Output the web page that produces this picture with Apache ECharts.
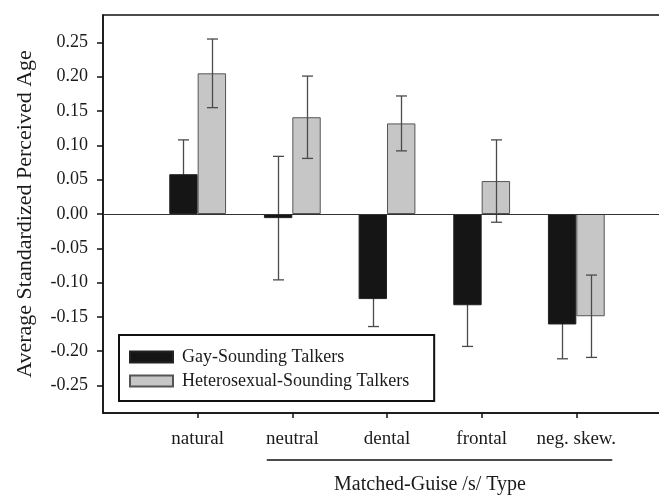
<!DOCTYPE html>
<html><head><meta charset="utf-8">
<script src="https://cdn.jsdelivr.net/npm/echarts@6/dist/echarts.min.js"></script>
<style>html,body{margin:0;padding:0;background:#fff}#c{width:659px;height:496px}</style>
</head><body><div id="c"></div>
<script>
const categories = ['', 'natural', 'neutral', 'dental', 'frontal', 'neg. skew.', ''];
const gayValues = [null, 0.058, -0.006, -0.124, -0.133, -0.161, null];
const gayErr = [null, 0.050, 0.090, 0.040, 0.060, 0.050, null];
const hetValues = [null, 0.205, 0.141, 0.132, 0.048, -0.149, null];
const hetErr = [null, 0.050, 0.060, 0.040, 0.060, 0.060, null];
const yTicks = [-0.25, -0.2, -0.15, -0.1, -0.05, 0, 0.05, 0.1, 0.15, 0.2, 0.25];
const seriesNames = ['Gay-Sounding Talkers', 'Heterosexual-Sounding Talkers'];

const serif = '"Liberation Serif", "Times New Roman", serif';
function errData(vals, errs) {
  const out = [];
  vals.forEach((v, i) => { if (v !== null) out.push([categories[i], v - errs[i], v + errs[i]]); });
  return out;
}
function errRender(offset) {
  return function (params, api) {
    const band = api.size([1, 0])[0];
    const lo = api.coord([api.value(0), api.value(1)]);
    const hi = api.coord([api.value(0), api.value(2)]);
    const x = Math.round(lo[0] + offset * band) + 0.5;
    const cap = 5.5;
    const style = { stroke: '#4a4a4a', lineWidth: 1.3, fill: null };
    return { type: 'group', children: [
      { type: 'line', shape: { x1: x, y1: lo[1], x2: x, y2: hi[1] }, style },
      { type: 'line', shape: { x1: x - cap, y1: lo[1], x2: x + cap, y2: lo[1] }, style },
      { type: 'line', shape: { x1: x - cap, y1: hi[1], x2: x + cap, y2: hi[1] }, style }
    ]};
  };
}
const chart = echarts.init(document.getElementById('c'));
const option = {
  animation: false,
  backgroundColor: '#fff',
  grid: { left: 103, right: -12, top: 15, bottom: 83, show: true, borderColor: '#111', borderWidth: 1.5,
    backgroundColor: 'transparent', containLabel: false, outerBoundsMode: 'none' },
  legend: {
    orient: 'vertical', left: 119, top: 335, icon: 'rect',
    padding: [12, 25, 10, 10],
    itemWidth: 43, itemHeight: 11, itemGap: 4,
    borderColor: '#111', borderWidth: 2, backgroundColor: '#fff',
    textStyle: { fontFamily: serif, fontSize: 18, color: '#1a1a1a', lineHeight: 20, padding: [0, 0, 0, 4] },
    data: seriesNames
  },
  xAxis: {
    type: 'category', data: categories, boundaryGap: false,
    axisLine: { onZero: false, lineStyle: { color: '#111', width: 1.5 } },
    axisTick: { length: 5, interval: (i, v) => v !== '', lineStyle: { color: '#111', width: 1.5 } },
    axisLabel: { interval: 0, margin: 17, fontFamily: serif, fontSize: 19, color: '#1a1a1a' },
    name: 'Matched-Guise /s/ Type', nameLocation: 'middle', nameGap: 62,
    nameTextStyle: { fontFamily: serif, fontSize: 20, color: '#1a1a1a', padding: [0, 0, 0, 86] }
  },
  yAxis: {
    type: 'value', min: -0.29, max: 0.29,
    splitLine: { show: false },
    axisLine: { show: true, lineStyle: { color: '#111', width: 1.5 } },
    axisTick: { show: true, length: 6, customValues: yTicks, lineStyle: { color: '#111', width: 1.5 } },
    axisLabel: { customValues: yTicks, margin: 15, fontFamily: serif, fontSize: 18, color: '#1a1a1a', formatter: v => v.toFixed(2) },
    name: 'Average Standardized Perceived Age', nameLocation: 'middle', nameGap: 67, nameRotate: 90,
    nameTextStyle: { fontFamily: serif, fontSize: 22, color: '#1a1a1a' }
  },
  series: [
    { name: seriesNames[0], type: 'bar', data: gayValues, barGap: '0%', barCategoryGap: '40%', z: 2,
      itemStyle: { color: '#151515', borderColor: '#222', borderWidth: 1 },
      markLine: { silent: true, symbol: 'none', label: { show: false }, lineStyle: { color: '#333', width: 1.2, type: 'solid' }, data: [{ yAxis: 0 }] } },
    { name: seriesNames[1], type: 'bar', data: hetValues, barGap: '0%', barCategoryGap: '40%', z: 2,
      itemStyle: { color: '#c6c6c6', borderColor: '#555', borderWidth: 1 } },
    { type: 'custom', data: errData(gayValues, gayErr), encode: { x: 0, y: [1, 2] }, renderItem: errRender(-0.15), z: 1 },
    { type: 'custom', data: errData(hetValues, hetErr), encode: { x: 0, y: [1, 2] }, renderItem: errRender(0.15), z: 3 }
  ]
};
chart.setOption(option);
const pNeutral = chart.convertToPixel({ xAxisIndex: 0 }, 'neutral');
const pNeg = chart.convertToPixel({ xAxisIndex: 0 }, 'neg. skew.');
const band = pNeg - chart.convertToPixel({ xAxisIndex: 0 }, 'frontal');
const yBase = chart.convertToPixel({ yAxisIndex: 0 }, -0.29);
chart.setOption({ graphic: [{ type: 'line', shape: { x1: pNeutral - 0.27 * band, y1: yBase + 47, x2: pNeg + 0.38 * band, y2: yBase + 47 }, style: { stroke: '#111', lineWidth: 1.5 } }] });
</script></body></html>
